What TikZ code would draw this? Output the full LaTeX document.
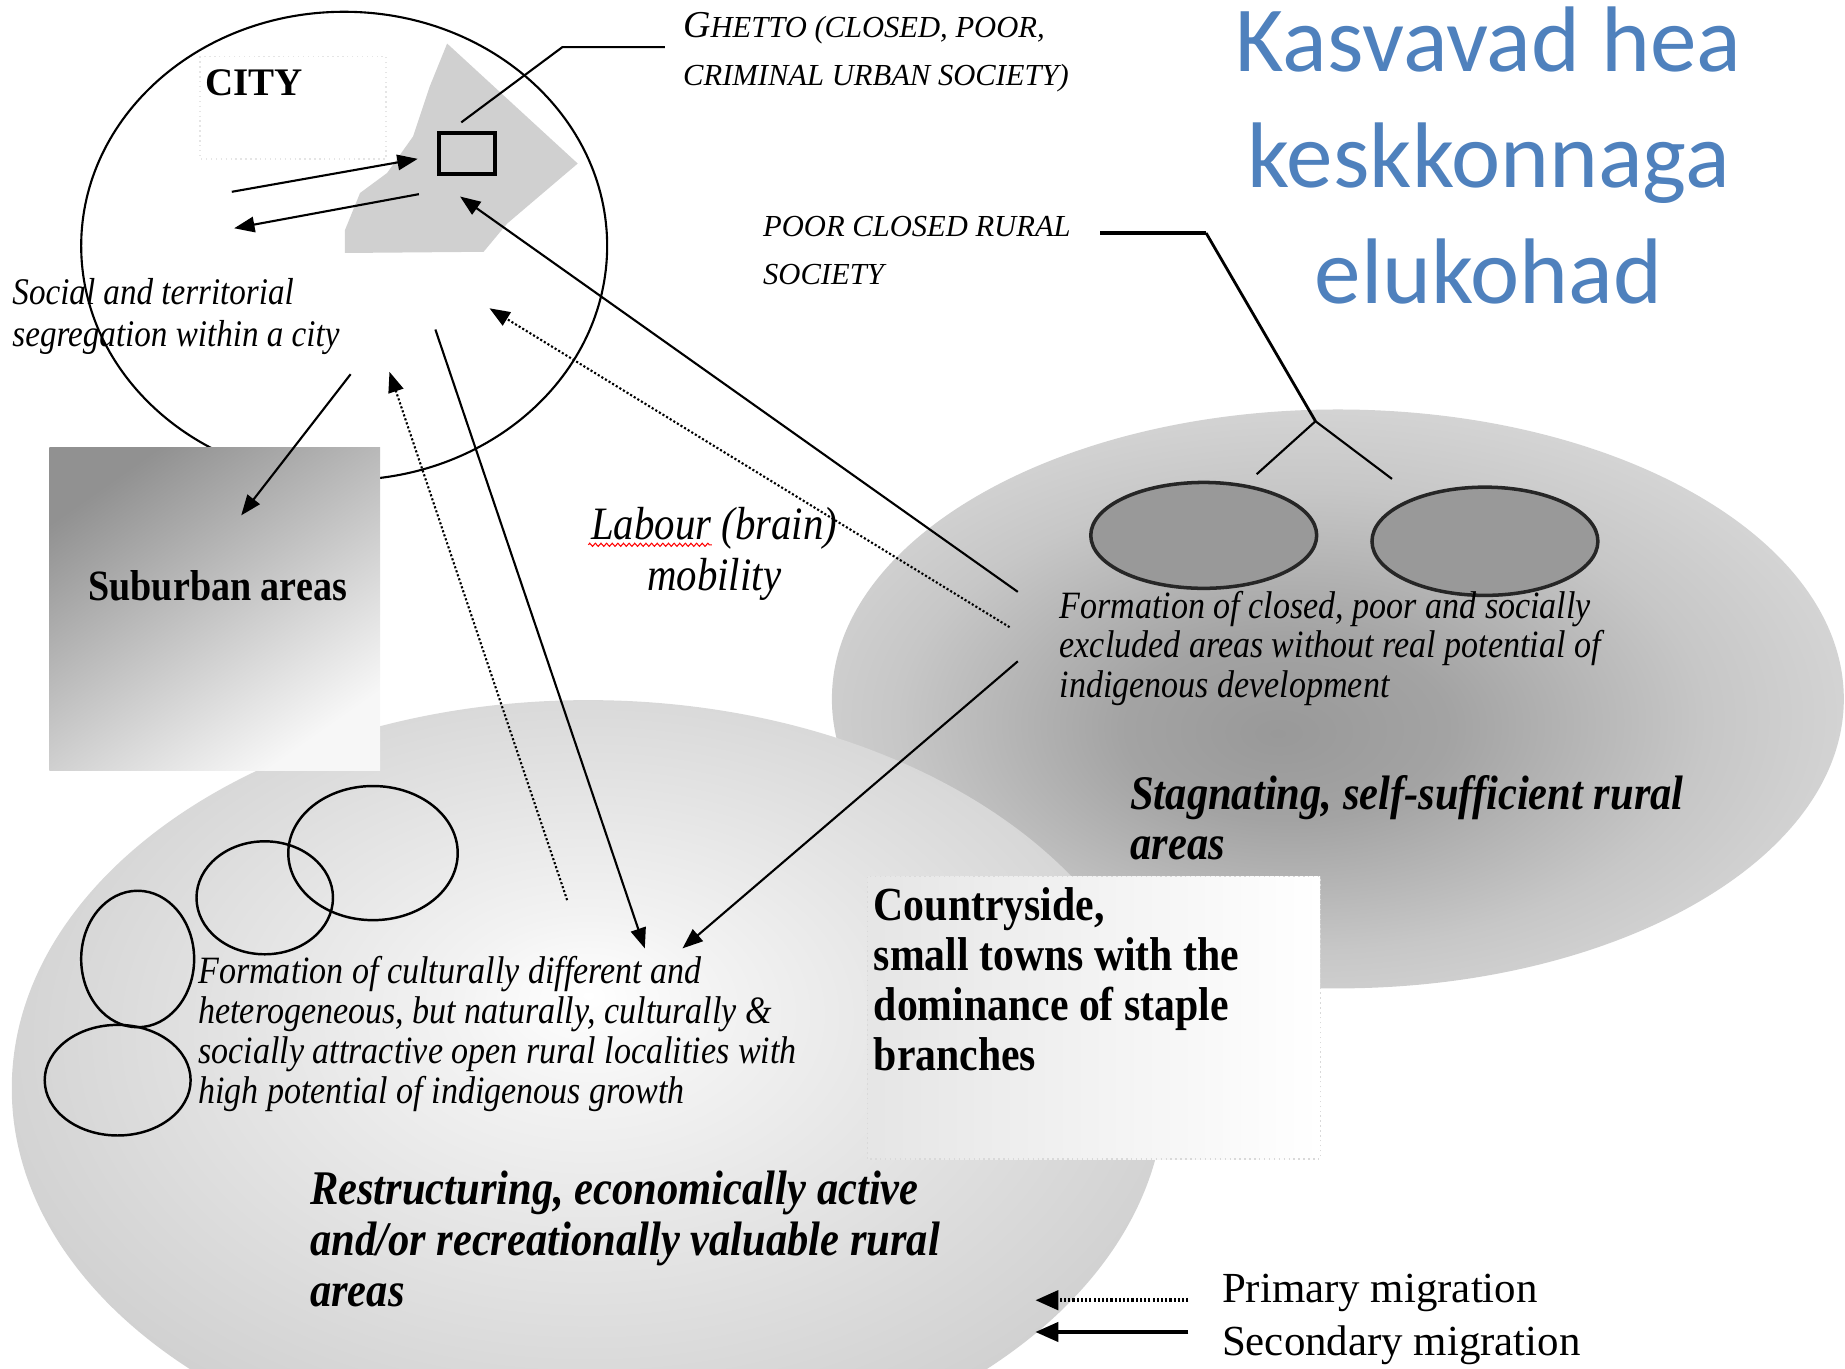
\documentclass[tikz,border=0pt]{standalone}
\usepackage{fontspec}
\setmainfont{Liberation Serif}
\newfontfamily\narrowserif[FakeStretch=0.88]{Liberation Serif}
\newfontfamily\titlefont{Carlito}
\usetikzlibrary{arrows.meta,positioning,decorations.pathmorphing}

\definecolor{titleblue}{RGB}{79,129,189}
\definecolor{ghettogray}{RGB}{208,208,208}
\definecolor{pocketgray}{RGB}{153,153,153}

\pgfdeclareradialshading{stagshade}{\pgfpoint{-3bp}{-3bp}}{%
  color(0bp)=(black!40); color(8bp)=(black!36); color(20bp)=(black!22); color(28bp)=(black!16); color(50bp)=(black!14)}
\pgfdeclareradialshading{restshade}{\pgfpoint{0bp}{6bp}}{%
  color(0bp)=(white); color(6bp)=(white!95!black); color(22bp)=(black!15); color(35bp)=(black!23); color(50bp)=(black!28)}

\begin{document}
\begin{tikzpicture}[x=0.011767cm,y=-0.011767cm,
    every node/.style={inner sep=0pt},
    thinline/.style={line width=0.6pt},
    mig/.style={thinline,-{Triangle[length=5.8pt,width=4.4pt]}},
    primig/.style={mig,dash pattern=on 0.6pt off 0.6pt},
    pocket/.style={fill=pocketgray,draw=black!85,line width=1pt},
    locality/.style={draw,line width=0.7pt},
    note/.style={font=\narrowserif\itshape\fontsize{11}{11.3}\selectfont,align=left,anchor=west},
    area/.style={font=\narrowserif\bfseries\itshape\fontsize{13.75}{14.2}\selectfont,align=left,anchor=west},
    caps/.style={font=\itshape\fontsize{8.7}{13.7}\selectfont,align=left,anchor=west},
    legend/.style={font=\fontsize{12.2}{14}\selectfont,anchor=west}
  ]
  \useasboundingbox (0,0) rectangle (1568,1163);

  % rural regions
  \shade[shading=stagshade] (1137,594) ellipse [x radius=430, y radius=246];
  \shade[shading=restshade] (500,925) ellipse [x radius=490, y radius=330];

  % city
  \draw[thinline] (292.5,209) ellipse [x radius=223.5, y radius=199];
  \fill[ghettogray] (380,37) -- (491,139) -- (478,150) -- (431,190) -- (411,214)
    -- (293,215) -- (293,196) -- (306,164) -- (329,147) -- (351,116) -- (365,74) -- cycle;
  \draw[line width=1.2pt] (373,113) rectangle (421,148);
  \draw[black!10,densely dotted] (170,48) rectangle (328,135);
  \node[font=\bfseries\fontsize{11.1}{13}\selectfont] (city) at (216,70) {CITY};
  \node[note,font=\narrowserif\itshape\fontsize{10.7}{11.7}\selectfont] (segreg) at (10,269)
    {Social and territorial\\segregation within a city};

  % suburbs
  \shade[top color=black!43,bottom color=white!97!black,shading angle=35] (42,380) rectangle (323,655);
  \node[font=\narrowserif\bfseries\fontsize{12.3}{14}\selectfont] (suburb) at (185,498) {Suburban areas};

  % ghetto label
  \coordinate (ghettoA) at (392,104);
  \coordinate (ghettoB) at (478,40);
  \coordinate (ghettoC) at (565,40);
  \draw[thinline] (ghettoA) -- (ghettoB) -- (ghettoC);
  \node[caps] (ghetto) at (580,44)
    {{\fontsize{10.8}{13.7}\selectfont G}HETTO (CLOSED, POOR,\\CRIMINAL URBAN SOCIETY)};

  % rural society label
  \node[caps] (poor) at (648,213) {POOR CLOSED RURAL\\SOCIETY};
  \coordinate (poorA) at (935,198);
  \coordinate (poorB) at (1025,198);
  \coordinate (poorC) at (1118,358);
  \coordinate (poorD) at (1068,403);
  \coordinate (poorE) at (1183,407);
  \draw[line width=1.3pt] (poorA) -- (poorB);
  \draw[line width=0.8pt] (poorB) -- (poorC);
  \draw[thinline] (poorC) -- (poorD) (poorC) -- (poorE);

  % title
  \node[font=\titlefont\fontsize{26.5}{33}\selectfont,text=titleblue,align=center] (title)
    at (1265,132) {Kasvavad hea\\keskkonnaga\\elukohad};

  % countryside
  \shade[left color=black!10,right color=white] (737,745) rectangle (1122,985);
  \draw[black!15,densely dotted] (737,745) rectangle (1122,985);
  \node[font=\narrowserif\bfseries\fontsize{13.5}{14.2}\selectfont,align=left,anchor=west] (country)
    at (742,832) {Countryside,\\small towns with the\\dominance of staple\\branches};

  % closed pockets and open localities
  \draw[pocket] (1023,455) ellipse [x radius=96, y radius=45];
  \draw[pocket] (1262,460) ellipse [x radius=96, y radius=46];
  \draw[locality] (317,725) ellipse [x radius=72, y radius=57];
  \draw[locality] (225,763) ellipse [x radius=58, y radius=48];
  \draw[locality] (117,815) ellipse [x radius=48, y radius=58];
  \draw[locality] (100,918) ellipse [x radius=62, y radius=47];

  \node[note] (closed) at (900,551)
    {Formation of closed, poor and socially\\excluded areas without real potential of\\indigenous development};
  \node[area] (stagn) at (960,695) {Stagnating, self-sufficient rural\\areas};
  \node[note,font=\narrowserif\itshape\fontsize{11}{11.4}\selectfont] (open) at (168,879)
    {Formation of culturally different and\\heterogeneous, but naturally, culturally \&\\socially attractive open rural localities with\\high potential of indigenous growth};
  \node[area,font=\narrowserif\bfseries\itshape\fontsize{13.75}{14.4}\selectfont] (restr) at (263,1053)
    {Restructuring, economically active\\and/or recreationally valuable rural\\areas};

  \node[note,font=\narrowserif\itshape\fontsize{13.2}{14.4}\selectfont,align=center,anchor=center] (labour)
    at (607,471) {Labour (brain)\\mobility};
  \draw[red,line width=0.3pt,decorate,decoration={zigzag,amplitude=0.45pt,segment length=1.6pt}]
    (500,463) -- (605,463);

  % migration flows
  \coordinate (cityIn0) at (197,163);
  \coordinate (cityIn1) at (355,135);
  \coordinate (cityOut0) at (356,165);
  \coordinate (cityOut1) at (199,194);
  \coordinate (suburb0) at (298,318);
  \coordinate (suburb1) at (205,438);
  \coordinate (openUp0) at (482,765);
  \coordinate (openUp1) at (331,316);
  \coordinate (openDown0) at (370,280);
  \coordinate (openDown1) at (548,806);
  \coordinate (closedUp0) at (865,503);
  \coordinate (closedUp1) at (391,167);
  \coordinate (closedDot0) at (858,533);
  \coordinate (closedDot1) at (416,262);
  \coordinate (closedDown0) at (865,562);
  \coordinate (closedDown1) at (580,806);

  \draw[mig] (cityIn0) -- (cityIn1);
  \draw[mig] (cityOut0) -- (cityOut1);
  \draw[mig] (suburb0) -- (suburb1);
  \draw[primig] (openUp0) -- (openUp1);
  \draw[mig] (openDown0) -- (openDown1);
  \draw[mig] (closedUp0) -- (closedUp1);
  \draw[primig] (closedDot0) -- (closedDot1);
  \draw[mig] (closedDown0) -- (closedDown1);

  % legend
  \coordinate (legPrim0) at (1010,1105);
  \coordinate (legPrim1) at (880,1105);
  \coordinate (legSec0) at (1010,1132);
  \coordinate (legSec1) at (880,1132);
  \draw[primig,line width=1pt,-{Triangle[length=6.5pt,width=5.5pt]}] (legPrim0) -- (legPrim1);
  \draw[mig,line width=0.9pt,-{Triangle[length=6.5pt,width=5.5pt]}] (legSec0) -- (legSec1);
  \node[legend] (prim) at (1038,1099) {Primary migration};
  \node[legend] (sec) at (1038,1143) {Secondary migration};
\end{tikzpicture}
\end{document}
